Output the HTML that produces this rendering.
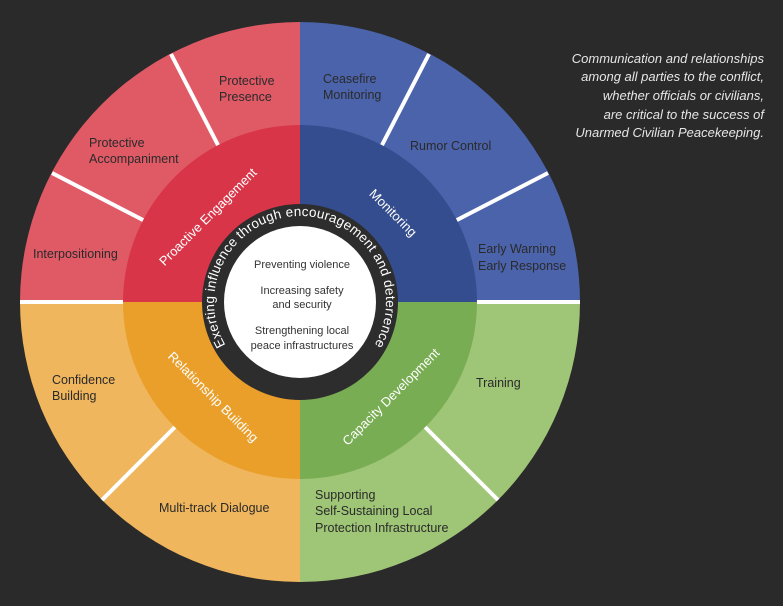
<!DOCTYPE html>
<html><head><meta charset="utf-8"><style>
html,body{margin:0;padding:0;background:#2b2a2a;}
svg{display:block;}
text{font-family:"Liberation Sans","DejaVu Sans",sans-serif;}
</style></head><body>
<svg width="783" height="606" viewBox="0 0 783 606" xmlns="http://www.w3.org/2000/svg">
<rect width="783" height="606" fill="#2b2a2a"/>
<g transform="translate(300,302)">
  <path d="M0,0 L0,-280 A280,280 0 0 0 -280,0 Z" fill="#e05a66"/>
  <path d="M0,0 L0,-280 A280,280 0 0 1 280,0 Z" fill="#4b63ab"/>
  <path d="M0,0 L280,0 A280,280 0 0 1 0,280 Z" fill="#9fc577"/>
  <path d="M0,0 L0,280 A280,280 0 0 1 -280,0 Z" fill="#f0b65d"/>
  <g stroke="#ffffff" stroke-width="4">
    <line x1="-280" y1="0" x2="-176" y2="0"/>
    <line x1="280" y1="0" x2="176" y2="0"/>
    <line x1="-129" y1="-248" x2="-81" y2="-155"/>
    <line x1="-248" y1="-129" x2="-155" y2="-81"/>
    <line x1="129" y1="-248" x2="81" y2="-155"/>
    <line x1="248" y1="-129" x2="155" y2="-81"/>
    <line x1="-198" y1="198" x2="-124" y2="124"/>
    <line x1="198" y1="198" x2="124" y2="124"/>
  </g>
  <path d="M0,0 L0,-177 A177,177 0 0 0 -177,0 Z" fill="#d93548"/>
  <path d="M0,0 L0,-177 A177,177 0 0 1 177,0 Z" fill="#344d8e"/>
  <path d="M0,0 L177,0 A177,177 0 0 1 0,177 Z" fill="#78ad53"/>
  <path d="M0,0 L0,177 A177,177 0 0 1 -177,0 Z" fill="#e99f2a"/>
  <circle r="98" fill="#2e2d2d"/>
  <circle r="76" fill="#ffffff"/>
  <defs>
    <path id="arc" d="M-72,47 A86,86 0 1 1 72,47" fill="none"/>
  </defs>
  <text font-size="13.5" fill="#fff"><textPath href="#arc" startOffset="50%" text-anchor="middle" textLength="360" lengthAdjust="spacing">Exerting influence through encouragement and deterrence</textPath></text>
  <g font-size="11" fill="#333" text-anchor="middle">
    <text x="2" y="-34">Preventing violence</text>
    <text x="2" y="-8">Increasing safety</text>
    <text x="2" y="6">and security</text>
    <text x="2" y="32">Strengthening local</text>
    <text x="2" y="47">peace infrastructures</text>
  </g>
  <g font-size="13" fill="#fff" text-anchor="middle">
    <text transform="translate(-89,-82) rotate(-45)">Proactive Engagement</text>
    <text transform="translate(90,-86) rotate(45)">Monitoring</text>
    <text transform="translate(-90,98) rotate(45)">Relationship Building</text>
    <text transform="translate(94,98) rotate(-45)">Capacity Development</text>
  </g>
</g>
<g font-size="12.5" fill="#2a2a2a">
  <text x="219" y="85">Protective</text>
  <text x="219" y="101">Presence</text>
  <text x="89" y="147">Protective</text>
  <text x="89" y="163">Accompaniment</text>
  <text x="33" y="258">Interpositioning</text>
  <text x="323" y="83">Ceasefire</text>
  <text x="323" y="99">Monitoring</text>
  <text x="410" y="150">Rumor Control</text>
  <text x="478" y="253">Early Warning</text>
  <text x="478" y="270">Early Response</text>
  <text x="52" y="384">Confidence</text>
  <text x="52" y="400">Building</text>
  <text x="159" y="512">Multi-track Dialogue</text>
  <text x="476" y="387">Training</text>
  <text x="315" y="499">Supporting</text>
  <text x="315" y="515">Self-Sustaining Local</text>
  <text x="315" y="532">Protection Infrastructure</text>
</g>
<g font-size="13" fill="#e6e6e6" font-style="italic" text-anchor="end">
  <text x="764" y="63">Communication and relationships</text>
  <text x="764" y="81">among all parties to the conflict,</text>
  <text x="764" y="100">whether officials or civilians,</text>
  <text x="764" y="119">are critical to the success of</text>
  <text x="764" y="137">Unarmed Civilian Peacekeeping.</text>
</g>
</svg>
</body></html>
